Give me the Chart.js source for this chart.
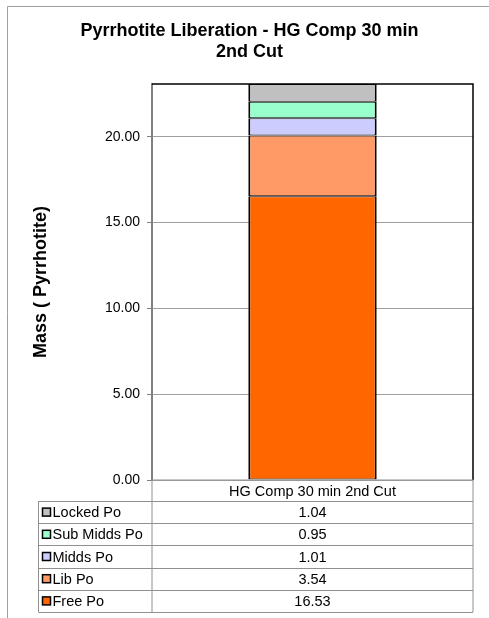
<!DOCTYPE html>
<html>
<head>
<meta charset="utf-8">
<script src="https://cdn.jsdelivr.net/npm/chart.js@4.4.0/dist/chart.umd.min.js"></script>
<style>
  html, body { margin: 0; padding: 0; background: #fff; }
  #wrap { width: 489px; height: 618px; }
</style>
</head>
<body>
<div id="wrap"><canvas id="chart" width="489" height="618"></canvas></div>
<script>
// data
const categories = ['HG Comp 30 min 2nd Cut'];
const seriesNames = ['Free Po', 'Lib Po', 'Midds Po', 'Sub Midds Po', 'Locked Po'];
const freePo = [16.53];
const libPo = [3.54];
const middsPo = [1.01];
const subMiddsPo = [0.95];
const lockedPo = [1.04];
const yTicks = [0, 5, 10, 15, 20];
const yMax = 23.07;

const seriesValues = [freePo, libPo, middsPo, subMiddsPo, lockedPo];
const colors = ['#FF6600', '#FF9966', '#CCCCFF', '#99FFCC', '#C0C0C0'];
const FONT = '"Liberation Sans", Arial, sans-serif';

// outer frame + plot border
const framePlugin = {
    id: 'frame',
    beforeDraw(chart) {
        const ctx = chart.ctx;
        ctx.save();
        ctx.fillStyle = '#fff';
        ctx.fillRect(0, 0, chart.width, chart.height);
        ctx.strokeStyle = '#a0a0a0';
        ctx.lineWidth = 1;
        ctx.beginPath();
        ctx.moveTo(7.5, chart.height);
        ctx.lineTo(7.5, 6.5);
        ctx.lineTo(chart.width, 6.5);
        ctx.stroke();
        ctx.restore();
    },
    afterDatasetsDraw(chart) {
        const a = chart.chartArea;
        const ctx = chart.ctx;
        ctx.save();
        ctx.strokeStyle = '#000';
        ctx.lineWidth = 1.5;
        ctx.beginPath();
        ctx.moveTo(a.left, a.top);
        ctx.lineTo(a.right, a.top);
        ctx.lineTo(a.right, a.bottom);
        ctx.stroke();
        ctx.restore();
    }
};

// data table under the plot
const dataTable = {
    id: 'dataTable',
    afterDraw(chart) {
        const ctx = chart.ctx;
        const a = chart.chartArea;
        const xs = chart.scales.x;
        const headTop = a.bottom;
        const headH = 21;
        const rowH = 22.2;
        const labelLeft = 38.5;
        const n = seriesNames.length;
        const tableBottom = headTop + headH + rowH * n;

        ctx.save();
        ctx.strokeStyle = '#909090';
        ctx.lineWidth = 1;
        ctx.beginPath();
        ctx.moveTo(a.left, headTop);
        ctx.lineTo(a.right, headTop);
        ctx.moveTo(a.right, headTop);
        ctx.lineTo(a.right, tableBottom);
        ctx.moveTo(a.left, headTop);
        ctx.lineTo(a.left, tableBottom);
        for (let i = 0; i <= n; i++) {
            const y = Math.round(headTop + headH + rowH * i) + 0.5;
            ctx.moveTo(labelLeft, y);
            ctx.lineTo(a.right, y);
        }
        ctx.moveTo(labelLeft, headTop + headH);
        ctx.lineTo(labelLeft, tableBottom);
        ctx.stroke();

        ctx.fillStyle = '#000';
        ctx.font = '14.5px ' + FONT;
        ctx.textBaseline = 'middle';
        ctx.textAlign = 'center';
        categories.forEach((c, i) => {
            ctx.fillText(c, xs.getPixelForValue(i), headTop + headH / 2 + 1);
        });

        // rows top to bottom = reverse stacking order
        for (let r = 0; r < n; r++) {
            const s = n - 1 - r;
            const yMid = headTop + headH + rowH * r + rowH / 2 + 1;
            ctx.fillStyle = colors[s];
            ctx.fillRect(labelLeft + 4, yMid - 5, 8, 8);
            ctx.strokeStyle = '#000';
            ctx.lineWidth = 1.5;
            ctx.strokeRect(labelLeft + 4, yMid - 5, 8, 8);
            ctx.fillStyle = '#000';
            ctx.textAlign = 'left';
            ctx.fillText(seriesNames[s], labelLeft + 14, yMid);
            ctx.textAlign = 'center';
            seriesValues[s].forEach((v, i) => {
                ctx.fillText(v.toFixed(2), xs.getPixelForValue(i), yMid);
            });
        }
        ctx.restore();
    }
};

new Chart(document.getElementById('chart'), {
    type: 'bar',
    data: {
        labels: categories,
        datasets: seriesNames.map((name, i) => ({
            label: name,
            data: seriesValues[i],
            backgroundColor: colors[i],
            borderColor: '#000',
            borderWidth: { top: 1, bottom: 1, left: 2, right: 2 },
            borderSkipped: false,
            barPercentage: 0.4,
            categoryPercentage: 1.0
        }))
    },
    options: {
        responsive: false,
        animation: false,
        devicePixelRatio: 1,
        layout: { padding: { top: 20, left: 26, right: 16, bottom: 138 } },
        plugins: {
            legend: { display: false },
            tooltip: { enabled: false },
            title: {
                display: true,
                text: ['Pyrrhotite Liberation - HG Comp 30 min', '2nd Cut'],
                color: '#000',
                font: { family: FONT, size: 18, weight: 'bold', lineHeight: 1.2 },
                padding: { top: 0, bottom: 20.8 }
            }
        },
        scales: {
            x: { stacked: true, display: false },
            y: {
                stacked: true,
                min: 0,
                max: yMax,
                afterFit(scale) { scale.width = 126; },
                afterBuildTicks(scale) { scale.ticks = yTicks.map(v => ({ value: v })); },
                border: { display: true, color: '#808080', width: 2 },
                grid: { color: '#a0a0a0', tickColor: '#808080', tickLength: 5, drawTicks: true },
                ticks: {
                    color: '#000',
                    padding: 7,
                    font: { family: FONT, size: 14 },
                    callback: v => Number(v).toFixed(2)
                },
                title: {
                    display: true,
                    text: 'Mass ( Pyrrhotite)',
                    color: '#000',
                    font: { family: FONT, size: 18, weight: 'bold', lineHeight: 1.2 },
                    padding: { top: 4, bottom: 0 }
                }
            }
        }
    },
    plugins: [framePlugin, dataTable]
});
</script>
</body>
</html>
